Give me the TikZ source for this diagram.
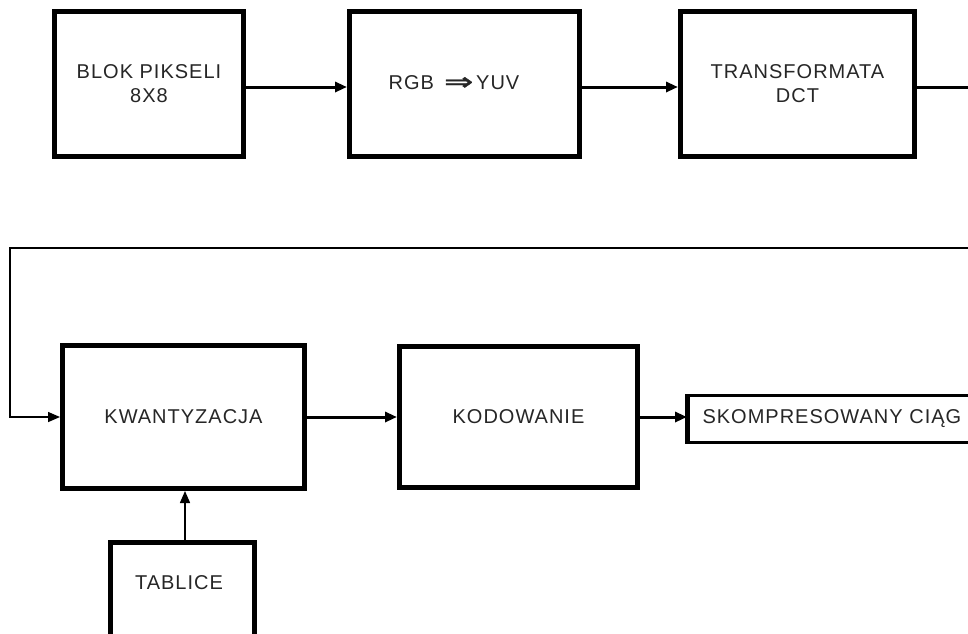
\documentclass[tikz,border=0pt]{standalone}
\usepackage{fontspec}
\setmainfont{Liberation Sans}[LetterSpace=5]
\newfontfamily\symfont{DejaVu Sans}[FakeBold=1.5]
\usetikzlibrary{arrows.meta}
\begin{document}
\begin{tikzpicture}[x=1pt,y=-1pt,
  blk/.style={draw=black, line width=5pt, inner sep=0pt, align=center,
    font=\fontsize{20}{24}\selectfont, text=black!85},
  conn/.style={line width=3pt, -{Triangle[length=12pt,width=10pt]}},
  thinconn/.style={line width=1.5pt, -{Triangle[length=12pt,width=10pt]}},
  lbl/.style={font=\fontsize{20}{24}\selectfont, text=black!85, inner sep=0pt}]
\useasboundingbox (0,0) rectangle (968,633);
\clip (0,0) rectangle (968,633);
\fill[white] (0,0) rectangle (968,633);

\node[blk, minimum width=189pt, minimum height=145pt] (b1) at (149,84) {BLOK PIKSELI\\8X8};
\node[blk, minimum width=230pt, minimum height=145pt] (b2) at (464.5,84) {};
\node[lbl] (b2t) at (454,83) {RGB\hspace{10pt}{\symfont\fontsize{24}{24}\selectfont\scalebox{1.45}[1]{⇒}}\hspace{3pt}YUV};
\node[blk, minimum width=234pt, minimum height=145pt] (b3) at (797.5,84) {TRANSFORMATA\\DCT};

\node[blk, minimum width=242pt, minimum height=143pt] (kw) at (183.5,417) {KWANTYZACJA};
\node[blk, minimum width=238pt, minimum height=141pt] (kod) at (518.5,417) {KODOWANIE};
\node[blk, line width=3pt, text width=285pt, align=left, inner xsep=14pt,
  minimum height=47pt] (sk) at (845,419) {SKOMPRESOWANY CIĄG};
\draw[line width=5pt] (sk.north west) -- (sk.south west);

\node[blk, minimum width=144pt, minimum height=200pt, anchor=north] (tab) at (182.5,539.5) {};
\node[lbl] (tabt) at (179,583) {TABLICE};

\coordinate (r1) at (985,87);
\coordinate (r2) at (985,248);
\coordinate (l1) at (10,248);
\coordinate (l2) at (10,417);

\draw[conn] ([yshift=-3pt]b1.east) -- ([yshift=-3pt]b2.west);
\draw[conn] ([yshift=-3pt]b2.east) -- ([yshift=-3pt]b3.west);
\draw[line width=3pt] ([yshift=-3pt]b3.east) -- (r1);
\draw[line width=1.5pt] (r1) -- (r2);
\draw[thinconn] (r2) -- (l1) -- (l2) -- (kw.west);
\draw[conn] (kw.east) -- (kod.west);
\draw[conn] (kod.east) -- (kod.east -| sk.west);
\draw[thinconn] ([xshift=2.5pt]tab.north) -- ([xshift=2.5pt]tab.north |- kw.south);
\end{tikzpicture}
\end{document}
